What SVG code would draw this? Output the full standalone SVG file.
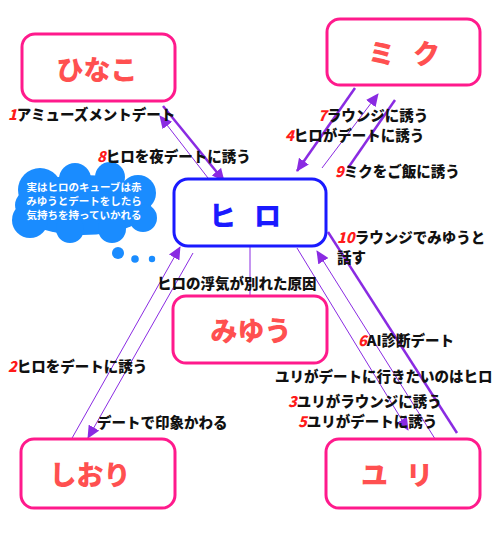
<svg xmlns="http://www.w3.org/2000/svg" width="500" height="542" viewBox="0 0 500 542">
<style>
.node{fill:#fff;stroke:#ff1a8c;stroke-width:3}
.hero{fill:#fff;stroke:#1a1aff;stroke-width:3}
.nt{font-family:"Noto Sans CJK JP","Noto Sans",sans-serif;font-weight:900;font-size:27px;fill:#ff5050;text-anchor:middle;dominant-baseline:central}
.ht{fill:#1a1aff}
.lb{font-family:"Noto Sans CJK JP","Noto Sans",sans-serif;font-weight:900;font-size:14.5px;fill:#111;dominant-baseline:central}
.n{fill:#ff1a1a;font-style:italic}
.thick{stroke:#8a2be2;stroke-width:2.5;fill:none}
.thin{stroke:#8a2be2;stroke-width:1;fill:none}
.ct{font-family:"Noto Sans CJK JP","Noto Sans",sans-serif;font-weight:bold;font-size:10.5px;fill:#fff;text-anchor:middle;dominant-baseline:central}
</style>
<defs>
<marker id="ah" markerUnits="userSpaceOnUse" markerWidth="14" markerHeight="12" refX="12" refY="6" orient="auto">
<path d="M0,0 L13,6 L0,12 Z" fill="#8a2be2"/>
</marker>
</defs>
<rect width="500" height="542" fill="#fff"/>

<g id="cloud" fill="#1a8cff">
<ellipse cx="83" cy="205" rx="68" ry="30"/>
<circle cx="40" cy="190" r="22"/>
<circle cx="75" cy="179" r="16"/>
<circle cx="110" cy="177" r="15"/>
<circle cx="138" cy="193" r="18"/>
<circle cx="30" cy="220" r="18"/>
<circle cx="70" cy="229" r="14"/>
<circle cx="112" cy="229" r="14"/>
<circle cx="143" cy="218" r="14"/>
<circle cx="118" cy="253" r="6"/>
<circle cx="135" cy="259" r="3.8"/>
<circle cx="152" cy="259" r="3.2"/>
<text class="ct" x="84" y="186">実はヒロのキューブは赤</text>
<text class="ct" x="84" y="200">みゆうとデートをしたら</text>
<text class="ct" x="84" y="214">気持ちを持っていかれる</text>
</g>

<g id="connectors">
<line class="thick" x1="163" y1="106" x2="224" y2="181" marker-end="url(#ah)"/>
<line class="thin" x1="208" y1="178" x2="160" y2="116" marker-end="url(#ah)"/>
<line class="thick" x1="355" y1="88" x2="297" y2="171" marker-end="url(#ah)"/>
<line class="thin" x1="322" y1="168" x2="378" y2="94" marker-end="url(#ah)"/>
<line class="thick" x1="395" y1="100" x2="348" y2="168"/>
<line class="thin" x1="250" y1="246" x2="250" y2="296"/>
<line class="thin" x1="67" y1="447" x2="180" y2="247" marker-end="url(#ah)"/>
<line class="thin" x1="193" y1="253" x2="88" y2="438" marker-end="url(#ah)"/>
<line class="thin" x1="297" y1="248" x2="408" y2="430" marker-end="url(#ah)"/>
<line class="thin" x1="437" y1="442" x2="317" y2="251" marker-end="url(#ah)"/>
<line class="thick" x1="328" y1="232" x2="457" y2="433"/>
</g>

<g id="labels">
<text class="lb" x="8" y="113"><tspan class="n">1</tspan>アミューズメントデート</text>
<text class="lb" x="97" y="155"><tspan class="n">8</tspan>ヒロを夜デートに誘う</text>
<text class="lb" x="318" y="114"><tspan class="n">7</tspan>ラウンジに誘う</text>
<text class="lb" x="285" y="134"><tspan class="n">4</tspan>ヒロがデートに誘う</text>
<text class="lb" x="335" y="170"><tspan class="n">9</tspan>ミクをご飯に誘う</text>
<text class="lb" x="337" y="236"><tspan class="n">10</tspan>ラウンジでみゆうと</text>
<text class="lb" x="337" y="256">話す</text>
<text class="lb" x="157" y="282">ヒロの浮気が別れた原因</text>
<text class="lb" x="358" y="339"><tspan class="n">6</tspan>AI診断デート</text>
<text class="lb" x="8" y="365"><tspan class="n">2</tspan>ヒロをデートに誘う</text>
<text class="lb" x="275" y="375">ユリがデートに行きたいのはヒロ</text>
<text class="lb" x="288" y="400"><tspan class="n">3</tspan>ユリがラウンジに誘う</text>
<text class="lb" x="298" y="420"><tspan class="n">5</tspan>ユリがデートに誘う</text>
<text class="lb" x="97" y="421">デートで印象かわる</text>
</g>

<g id="hinako"><rect class="node" x="22" y="34" width="153" height="67" rx="13"/><text class="nt" x="97" y="68">ひなこ</text></g>
<g id="miku"><rect class="node" x="327" y="19" width="153" height="66" rx="13"/><text class="nt" x="407" y="52" xml:space="preserve" letter-spacing="6">ミ ク</text></g>
<g id="hiro"><rect class="hero" x="174" y="179" width="152" height="67" rx="14"/><text class="nt ht" x="248" y="214" xml:space="preserve" letter-spacing="6">ヒ ロ</text></g>
<g id="miyuu"><rect class="node" x="173" y="296" width="154" height="67" rx="13"/><text class="nt" x="251" y="329">みゆう</text></g>
<g id="shiori"><rect class="node" x="21" y="439" width="154" height="69" rx="13"/><text class="nt" x="90" y="473">しおり</text></g>
<g id="yuri"><rect class="node" x="326" y="439" width="154" height="69" rx="13"/><text class="nt" x="400" y="473" xml:space="preserve" letter-spacing="6">ユ リ</text></g>
</svg>
